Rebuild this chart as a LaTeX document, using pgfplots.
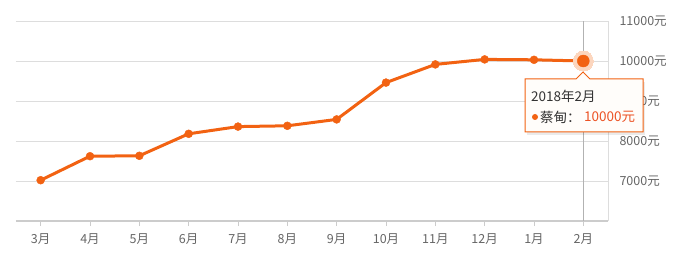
\documentclass[border=0pt]{standalone}
\usepackage{fontspec}
\usepackage{pgfplots}
\pgfplotsset{compat=1.18}
\setmainfont{Noto Sans CJK SC}
\definecolor{lineor}{RGB}{242,98,18}
\definecolor{halo}{RGB}{252,214,190}
\definecolor{lab}{RGB}{102,102,102}
\definecolor{gridc}{RGB}{221,221,221}
\definecolor{axc}{RGB}{204,204,204}
\definecolor{valc}{RGB}{236,82,36}
\definecolor{tipfill}{RGB}{255,253,250}
\pgfplotstableread{
x y
0 7020
1 7620
2 7630
3 8180
4 8360
5 8380
6 8540
7 9460
8 9915
9 10040
10 10030
11 10000
}\pricetable
\begin{document}
\begin{tikzpicture}[x=1pt,y=1pt]
\path[use as bounding box] (0,0) rectangle (685,260);
\begin{axis}[
  at={(16pt,39pt)}, anchor=south west,
  scale only axis, width=592pt, height=200pt,
  xmin=-0.5, xmax=11.5, ymin=6000, ymax=11000,
  scaled y ticks=false,
  xtick={0,...,11},
  xticklabels={3月,4月,5月,6月,7月,8月,9月,10月,11月,12月,1月,2月},
  ytick={7000,8000,9000,10000,11000},
  yticklabels={7000元,8000元,9000元,10000元,11000元},
  axis x line*=bottom, axis y line*=right,
  axis line style={-},
  x axis line style={draw=axc, line width=2pt},
  y axis line style={draw=gridc, line width=1pt},
  ymajorgrids, grid style={draw=gridc, line width=1pt},
  ytick style={draw=none},
  xtick style={draw=axc, line width=1pt},
  tick align=outside, major tick length=5pt,
  tick label style={font=\fontsize{12.5}{14}\selectfont, text=lab},
  yticklabel style={anchor=west, xshift=3pt},
  xticklabel style={yshift=-4pt},
  clip=false,
]
\draw[draw=black!30, line width=1pt] (axis cs:11,6000) -- (axis cs:11,11000);
\addplot[color=halo, only marks, mark=*, mark size=10pt,
  mark options={solid, fill=halo, draw=halo, line width=0pt}] coordinates {(11,10000)};
\addplot[color=lineor, line width=3pt, mark=*, mark size=4pt,
  mark options={solid, fill=lineor, draw=lineor, line width=0.4pt}] table[x=x,y=y] {\pricetable};
\addplot[color=lineor, only marks, mark=*, mark size=6pt,
  mark options={solid, fill=lineor, draw=lineor, line width=0.4pt}] coordinates {(11,10000)};
\end{axis}
% tooltip (pixel coords: x 525..643, y 79..132)
\fill[black, opacity=0.08] (527,125) rectangle (645,178);
\path[fill=tipfill, draw=lineor, line width=1pt]
  (525,128) -- (525,181) -- (576,181) -- (583,188) -- (590,181) -- (643,181) -- (643,128) -- cycle;
\node[anchor=west, inner sep=0pt, text=black!80, font=\fontsize{13.5}{15}\selectfont] at (531,164) {2018年2月};
\fill[lineor] (535,143) circle (3pt);
\node[anchor=west, inner sep=0pt, text=black!80, font=\fontsize{13.5}{15}\selectfont] at (540,143) {蔡甸：};
\node[anchor=west, inner sep=0pt, text=valc, font=\fontsize{13.5}{15}\selectfont] at (584,143) {10000元};
\end{tikzpicture}
\end{document}
